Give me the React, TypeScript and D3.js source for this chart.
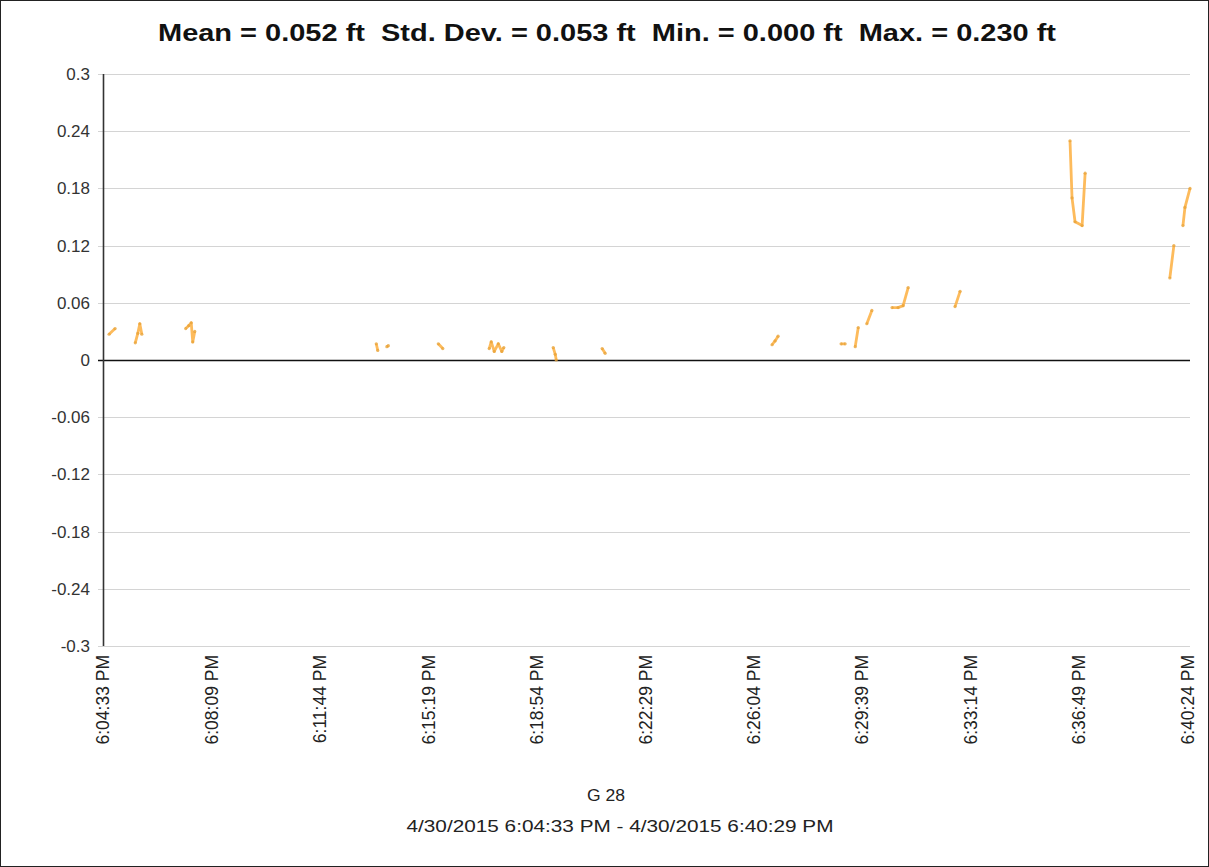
import React, { useEffect, useRef } from "react";
import * as d3 from "d3";

// Data: time of day (PM) and value (ft); null value = gap in the record
const times: string[] = [
  "6:04:45", "6:04:57", "6:05:00",
  "6:05:37", "6:05:42", "6:05:46", "6:05:50", "6:05:55",
  "6:07:17", "6:07:23", "6:07:28", "6:07:31", "6:07:35", "6:07:40",
  "6:13:35", "6:13:38", "6:13:45",
  "6:13:56", "6:13:59", "6:14:05",
  "6:15:38", "6:15:47", "6:15:50",
  "6:17:19", "6:17:23", "6:17:29", "6:17:37", "6:17:44", "6:17:48", "6:17:52",
  "6:19:26", "6:19:30", "6:19:32", "6:19:36",
  "6:21:03", "6:21:09", "6:21:12",
  "6:26:40", "6:26:46", "6:26:52", "6:26:56",
  "6:28:57", "6:29:05", "6:29:10",
  "6:29:25", "6:29:31", "6:29:35",
  "6:29:48", "6:29:58", "6:30:02",
  "6:30:38", "6:30:50", "6:31:00", "6:31:10", "6:31:14",
  "6:32:43", "6:32:53", "6:32:57",
  "6:36:31", "6:36:35", "6:36:41", "6:36:55", "6:37:01", "6:37:05",
  "6:39:49", "6:39:57", "6:40:02",
  "6:40:15", "6:40:19", "6:40:29",
];
const values: (number | null)[] = [
  0.027, 0.033, null,
  0.018, 0.028, 0.038, 0.027, null,
  0.033, 0.036, 0.039, 0.019, 0.03, null,
  0.017, 0.01, null,
  0.014, 0.015, null,
  0.017, 0.012, null,
  0.012, 0.019, 0.009, 0.017, 0.009, 0.013, null,
  0.013, 0.006, 0.0, null,
  0.012, 0.007, null,
  0.016, 0.02, 0.025, null,
  0.017, 0.017, null,
  0.014, 0.034, null,
  0.038, 0.052, null,
  0.055, 0.055, 0.057, 0.076, null,
  0.056, 0.072, null,
  0.23, 0.17, 0.145, 0.141, 0.196, null,
  0.086, 0.12, null,
  0.141, 0.16, 0.18,
];

const yTicks: number[] = [0.3, 0.24, 0.18, 0.12, 0.06, 0, -0.06, -0.12, -0.18, -0.24, -0.3];
const xTickTimes: string[] = [
  "6:04:33", "6:08:09", "6:11:44", "6:15:19", "6:18:54", "6:22:29",
  "6:26:04", "6:29:39", "6:33:14", "6:36:49", "6:40:24",
];
const xTickLabels: string[] = xTickTimes.map((t) => `${t} PM`);

const titleText = "Mean = 0.052 ft  Std. Dev. = 0.053 ft  Min. = 0.000 ft  Max. = 0.230 ft";
const axisTitle1 = "G 28";
const axisTitle2 = "4/30/2015 6:04:33 PM - 4/30/2015 6:40:29 PM";
const startTime = "6:04:33";
const endTime = "6:40:29";

const W = 1209;
const H = 867;
const margin = { left: 103, right: 19, top: 74, bottom: 221 };

const parse = (s: string) => {
  const [h, m, sec] = s.split(":").map(Number);
  return new Date(2015, 3, 30, h + 12, m, sec);
};

export default function App() {
  const ref = useRef<SVGSVGElement>(null);

  useEffect(() => {
    const svg = d3.select(ref.current);
    svg.selectAll("*").remove();
    const font = "Arial, 'Liberation Sans', sans-serif";

    const x = d3
      .scaleTime()
      .domain([parse(startTime), parse(endTime)])
      .range([margin.left, W - margin.right]);
    const y = d3
      .scaleLinear()
      .domain([-0.3, 0.3])
      .range([H - margin.bottom, margin.top]);

    svg.append("rect").attr("x", 0.5).attr("y", 0.5).attr("width", W - 1).attr("height", H - 1)
      .attr("fill", "#fff").attr("stroke", "#222").attr("stroke-width", 1);

    const g = svg.append("g");
    g.selectAll("line.grid")
      .data(yTicks)
      .join("line")
      .attr("x1", margin.left - 5)
      .attr("x2", W - margin.right)
      .attr("y1", (d) => Math.round(y(d)) + 0.5)
      .attr("y2", (d) => Math.round(y(d)) + 0.5)
      .attr("stroke", (d) => (d === 0 ? "#111" : "#d4d4d4"))
      .attr("stroke-width", (d) => (d === 0 ? 1.6 : 1));

    g.selectAll("text.ytick")
      .data(yTicks)
      .join("text")
      .attr("x", 90)
      .attr("y", (d) => y(d))
      .attr("dy", "0.35em")
      .attr("text-anchor", "end")
      .attr("font-family", font)
      .attr("font-size", 17)
      .attr("fill", "#333")
      .text((d) => String(d));

    g.append("line")
      .attr("x1", margin.left + 0.5).attr("x2", margin.left + 0.5)
      .attr("y1", y(0.3)).attr("y2", y(-0.3))
      .attr("stroke", "#333").attr("stroke-width", 1.6);

    g.selectAll("text.xtick")
      .data(xTickTimes)
      .join("text")
      .attr("transform", (d) => `translate(${x(parse(d))},${H - margin.bottom + 9}) rotate(-90)`)
      .attr("dy", "0.35em")
      .attr("text-anchor", "end")
      .attr("font-family", font)
      .attr("font-size", 17.5)
      .attr("fill", "#222")
      .text((d, i) => xTickLabels[i]);

    const pts = times.map((t, i) => ({ t: parse(t), v: values[i] }));
    const line = d3
      .line<{ t: Date; v: number | null }>()
      .defined((d) => d.v !== null)
      .x((d) => x(d.t))
      .y((d) => y(d.v as number));
    g.append("path")
      .datum(pts)
      .attr("d", line)
      .attr("fill", "none")
      .attr("stroke", "#FDB44A")
      .attr("stroke-width", 2.8)
      .attr("stroke-opacity", 0.9)
      .attr("stroke-linejoin", "round");
    g.selectAll("circle.pt")
      .data(pts.filter((d) => d.v !== null))
      .join("circle")
      .attr("cx", (d) => x(d.t))
      .attr("cy", (d) => y(d.v as number))
      .attr("r", 1.6)
      .attr("fill", "#E9A43A")
      .attr("opacity", 0.8);

    svg.append("text")
      .attr("x", 607).attr("y", 41)
      .attr("text-anchor", "middle")
      .attr("font-family", font)
      .attr("font-weight", "bold")
      .attr("font-size", 23)
      .attr("fill", "#111")
      .attr("textLength", 898)
      .attr("lengthAdjust", "spacingAndGlyphs")
      .style("white-space", "pre")
      .text(titleText);
    svg.append("text")
      .attr("x", 606).attr("y", 801)
      .attr("text-anchor", "middle")
      .attr("font-family", font)
      .attr("font-size", 17)
      .attr("fill", "#222")
      .attr("textLength", 38)
      .attr("lengthAdjust", "spacingAndGlyphs")
      .text(axisTitle1);
    svg.append("text")
      .attr("x", 620).attr("y", 832)
      .attr("text-anchor", "middle")
      .attr("font-family", font)
      .attr("font-size", 17)
      .attr("fill", "#222")
      .attr("textLength", 427)
      .attr("lengthAdjust", "spacingAndGlyphs")
      .text(axisTitle2);
  }, []);

  return (
    <svg
      ref={ref}
      width={W}
      height={H}
      style={{ position: "absolute", left: 0, top: 0, display: "block" }}
    />
  );
}
